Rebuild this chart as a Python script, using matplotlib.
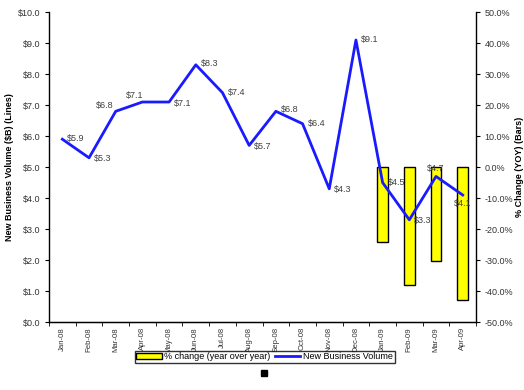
import numpy as np
import matplotlib.pyplot as plt
from matplotlib.patches import Rectangle

plt.rcParams['font.family'] = ['Liberation Sans', 'DejaVu Sans']

months = ['Jan-08', 'Feb-08', 'Mar-08', 'Apr-08', 'May-08', 'Jun-08', 'Jul-08', 'Aug-08',
          'Sep-08', 'Oct-08', 'Nov-08', 'Dec-08', 'Jan-09', 'Feb-09', 'Mar-09', 'Apr-09']
volume = [5.9, 5.3, 6.8, 7.1, 7.1, 8.3, 7.4, 5.7, 6.8, 6.4, 4.3, 9.1, 4.5, 3.3, 4.7, 4.1]
pct_months = ['Jan-09', 'Feb-09', 'Mar-09', 'Apr-09']
pct_change = [-24.0, -38.0, -30.3, -43.0]

# label offsets in pixels (dx, dy, ha)
offsets = [(5, 1, 'left'), (5, -1, 'left'), (-2, 6, 'right'), (1, 7, 'right'),
           (5, -1, 'left'), (5, 1, 'left'), (5, 0, 'left'), (5, -1, 'left'),
           (5, 2, 'left'), (5, 0, 'left'), (5, -1, 'left'), (5, 0, 'left'),
           (5, 0, 'left'), (5, -1, 'left'), (0, 8, 'center'), (0, -8, 'center')]

fig = plt.figure(figsize=(5.24, 3.9), dpi=100)
ax = fig.add_axes([0.0935, 0.174, 0.815, 0.795])
ax2 = ax.twinx()

x = np.arange(len(months))
bx = [months.index(m) for m in pct_months]

ax2.bar(bx, pct_change, width=0.4, color='#ffff00', edgecolor='black', linewidth=1,
        label='% change (year over year)', zorder=1)
ax2.set_ylim(-50, 50)
ax2.set_yticks(np.arange(-50, 51, 10))
ax2.set_yticklabels(['%.1f%%' % v for v in np.arange(-50, 51, 10)])

# draw line above bars
ax.set_zorder(ax2.get_zorder() + 1)
ax.patch.set_visible(False)
ln, = ax.plot(x, volume, color='#1a1aff', linewidth=2, label='New Business Volume')
px = 72.0 / 100
for i, v in enumerate(volume):
    dx, dy, ha = offsets[i]
    ax.annotate('$%.1f' % v, (x[i], v), xytext=(dx * px, dy * px), textcoords='offset points',
                ha=ha, va='center', fontsize=6.5, color='#404040')

ax.set_ylim(0, 10)
ax.set_yticks(np.arange(0, 10.1, 1))
ax.set_yticklabels(['$%.1f' % v for v in np.arange(0, 10.1, 1)])
ax.set_xlim(-0.5, len(months) - 0.5)
ax.set_xticks(x)
ax.set_xticklabels(months, rotation=90)
ax.set_xticks(np.arange(-0.5, len(months), 1), minor=True)
ax.tick_params(axis='x', which='major', length=0, pad=3.5)
ax.tick_params(axis='x', which='minor', length=3, direction='out')

for a in (ax, ax2):
    a.tick_params(axis='y', labelsize=6.5, labelcolor='#333333', length=3, width=0.8, pad=3)
    a.tick_params(axis='x', labelsize=5.6, labelcolor='#333333')
    a.spines['top'].set_visible(False)

ax.spines['right'].set_visible(False)
ax2.spines['left'].set_visible(False)
ax2.spines['right'].set_linewidth(1)
ax.spines['left'].set_linewidth(1)
ax.spines['bottom'].set_linewidth(1)

ax.set_ylabel('New Business Volume ($B) (Lines)', fontsize=6.5, fontweight='bold', labelpad=3)
ax2.set_ylabel('% Change (YOY) (Bars)', fontsize=6.5, fontweight='bold', labelpad=1.5)

h2, l2 = ax2.get_legend_handles_labels()
leg = fig.legend(h2 + [ln], l2 + ['New Business Volume'], loc='center',
                 bbox_to_anchor=(0.505, 0.085), ncol=2, fontsize=6.5, frameon=True,
                 fancybox=False, edgecolor='black', handlelength=2.8, handleheight=0.7,
                 columnspacing=0.5, handletextpad=0.3, borderpad=0.2)
leg.get_frame().set_linewidth(1)

fig.patches.append(Rectangle((261 / 524, 1 - 376 / 390), 6 / 524, 6 / 390,
                             transform=fig.transFigure, color='black'))

plt.savefig('out.png', dpi=100)
